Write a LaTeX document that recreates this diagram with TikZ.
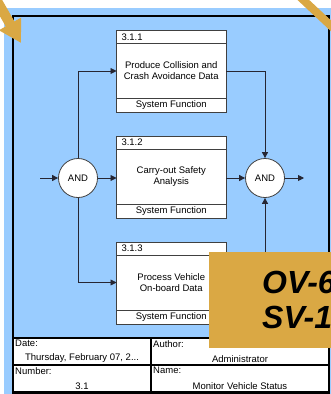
\documentclass[tikz,border=0pt]{standalone}
\usepackage{fontspec}
\setmainfont{Liberation Sans}
\usepackage{tikz}
\usetikzlibrary{positioning,arrows.meta}
\definecolor{ovblue}{HTML}{99CCFF}
\definecolor{ovgold}{HTML}{DAA844}
\definecolor{ovline}{HTML}{262633}
\definecolor{ovgray}{HTML}{404040}

\begin{document}
\begin{tikzpicture}[x=1pt,y=-1pt,font=\fontsize{9.5}{11}\selectfont,
  fbody/.style={rectangle,draw=ovgray,fill=white,line width=0.8pt,outer sep=0pt,minimum width=109.5pt,minimum height=55pt,inner sep=0pt,align=center},
  fhead/.style={rectangle,draw=ovgray,fill=white,line width=0.8pt,outer sep=0pt,minimum width=109.5pt,minimum height=13pt,inner ysep=0pt,inner xsep=5pt,text width=99.5pt,align=left},
  ffoot/.style={rectangle,draw=ovgray,fill=white,line width=0.8pt,outer sep=0pt,minimum width=109.5pt,minimum height=14pt,inner sep=0pt,align=center},
  gate/.style={circle,draw=ovgray,fill=white,line width=0.8pt,minimum size=39pt,inner sep=0pt},
  ar/.style={-{Triangle[length=6pt,width=6pt]},line width=0.9pt,ovline},
  cell/.style={rectangle,draw=black,fill=white,line width=1.6pt,outer sep=0pt,anchor=north west,minimum height=27pt,inner sep=0pt},
  clbl/.style={anchor=north west,inner sep=2pt},
  cval/.style={anchor=south,inner sep=2pt},
  tag/.style={rectangle,fill=ovgold,anchor=north west,minimum height=96pt,inner xsep=53pt,align=left,font=\fontsize{32}{35}\selectfont\bfseries\itshape}]
\useasboundingbox (0,0) rectangle (331,394);
% frame
\fill[ovblue] (4,8) rectangle (331,394);
\draw[line width=1.5pt] (13,16) rectangle (329,393);
% functions
\node[fbody] (f1) at (171.25,71) {Produce Collision and\\Crash Avoidance Data};
\node[fhead,above=0pt of f1] (f1h) {3.1.1};
\node[ffoot,below=0pt of f1] (f1f) {System Function};
\node[fbody] (f2) at (171.25,176.5) {Carry-out Safety\\Analysis};
\node[fhead,above=0pt of f2] (f2h) {3.1.2};
\node[ffoot,below=0pt of f2] (f2f) {System Function};
\node[fbody] (f3) at (171.25,282.5) {Process Vehicle\\On-board Data};
\node[fhead,above=0pt of f3] (f3h) {3.1.3};
\node[ffoot,below=0pt of f3] (f3f) {System Function};
% gates
\node[gate] (andL) at (78,178) {AND};
\node[gate] (andR) at (265,178) {AND};
\coordinate (in) at (40,178);
\coordinate (out) at (304,178);
% flows
\draw[ar] (in) -- (andL);
\draw[ar] (andL) |- (f1);
\draw[ar] (andL) -- (andL -| f2.west);
\draw[ar] (andL) |- (f3);
\draw[ar] (f1) -| (andR);
\draw[ar] (f2.east |- andR) -- (andR);
\draw[ar] (f3) -| (andR);
\draw[ar] (andR) -- (out);
% title block
\node[cell,minimum width=138pt] (date) at (13,338) {};
\node[cell,minimum width=178pt] (author) at (151,338) {};
\node[cell,minimum width=138pt] (number) at (13,365) {};
\node[cell,minimum width=178pt] (name) at (151,365) {};
\node[clbl] (dateL) at (date.north west) {Date:};
\node[cval] (dateV) at (date.south) {Thursday, February 07, 2...};
\node[clbl] (authorL) at (author.north west) {Author:};
\node[cval] (authorV) at (author.south) {Administrator};
\node[clbl] (numberL) at (number.north west) {Number:};
\node[cval] (numberV) at (number.south) {3.1};
\node[clbl] (nameL) at (name.north west) {Name:};
\node[cval] (nameV) at (name.south) {Monitor Vehicle Status};
% tag
\begin{scope}
  \clip (0,0) rectangle (331,394);
  \draw[ovgold,line width=10pt,-{Triangle[length=22pt,width=24pt]}] (-7,-6) -- (21,43);
  \draw[ovgold,line width=8pt] (298,-5) -- (344,38);
  \node[tag] (ovtag) at (209,252) {OV-6\\SV-1};
\end{scope}
\end{tikzpicture}
\end{document}
